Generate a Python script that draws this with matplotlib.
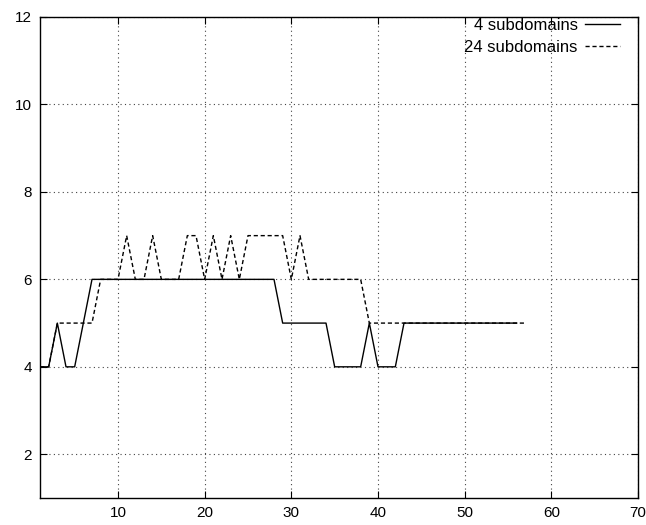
import matplotlib
matplotlib.use('Agg')
import matplotlib.pyplot as plt

plt.rcParams.update({
    'font.family': 'sans-serif', 'font.sans-serif': ['Liberation Sans', 'DejaVu Sans'],
    'font.size': 11,
})

# ── Data ──
x_4 = list(range(1, 57))
y_4 = ([4, 4, 5, 4, 4, 5] + [6] * 22 + [5] * 6 + [4] * 4 + [5] + [4] * 3 + [5] * 14)

x_24 = list(range(1, 58))
y_24 = ([4, 4, 5, 5, 5, 5, 5] + [6, 6, 6, 7, 6, 6, 7, 6, 6, 6, 7, 7, 6, 7, 6, 7, 6]
        + [7] * 5 + [6, 7] + [6] * 7 + [5] * 19)

x_ticks = [10, 20, 30, 40, 50, 60, 70]
y_ticks = [2, 4, 6, 8, 10, 12]

fig = plt.figure(figsize=(6.46, 5.25), dpi=100)
ax = fig.add_axes([40 / 646, 27 / 525, 598 / 646, 481 / 525])

ax.plot(x_4, y_4, color='black', lw=1.0, label='4 subdomains')
ax.plot(x_24, y_24, color='black', lw=1.0, linestyle=(0, (3, 2)), label='24 subdomains')

ax.set_xlim(1, 70)
ax.set_ylim(1, 12)
ax.set_xticks(x_ticks)
ax.set_yticks(y_ticks)
ax.grid(True, linestyle=(0, (1, 3)), color='#444444', lw=0.8)
ax.tick_params(direction='in', top=True, right=True, length=5, width=0.8, pad=6)
for s in ax.spines.values():
    s.set_linewidth(1.0)

ax.legend(loc='upper right', bbox_to_anchor=(0.97, 0.998), frameon=False,
          markerfirst=False, fontsize=12, handlelength=2.1, borderpad=0,
          borderaxespad=0, labelspacing=0.4, handletextpad=0.45)

fig.savefig('out.png', dpi=100, facecolor='white')
